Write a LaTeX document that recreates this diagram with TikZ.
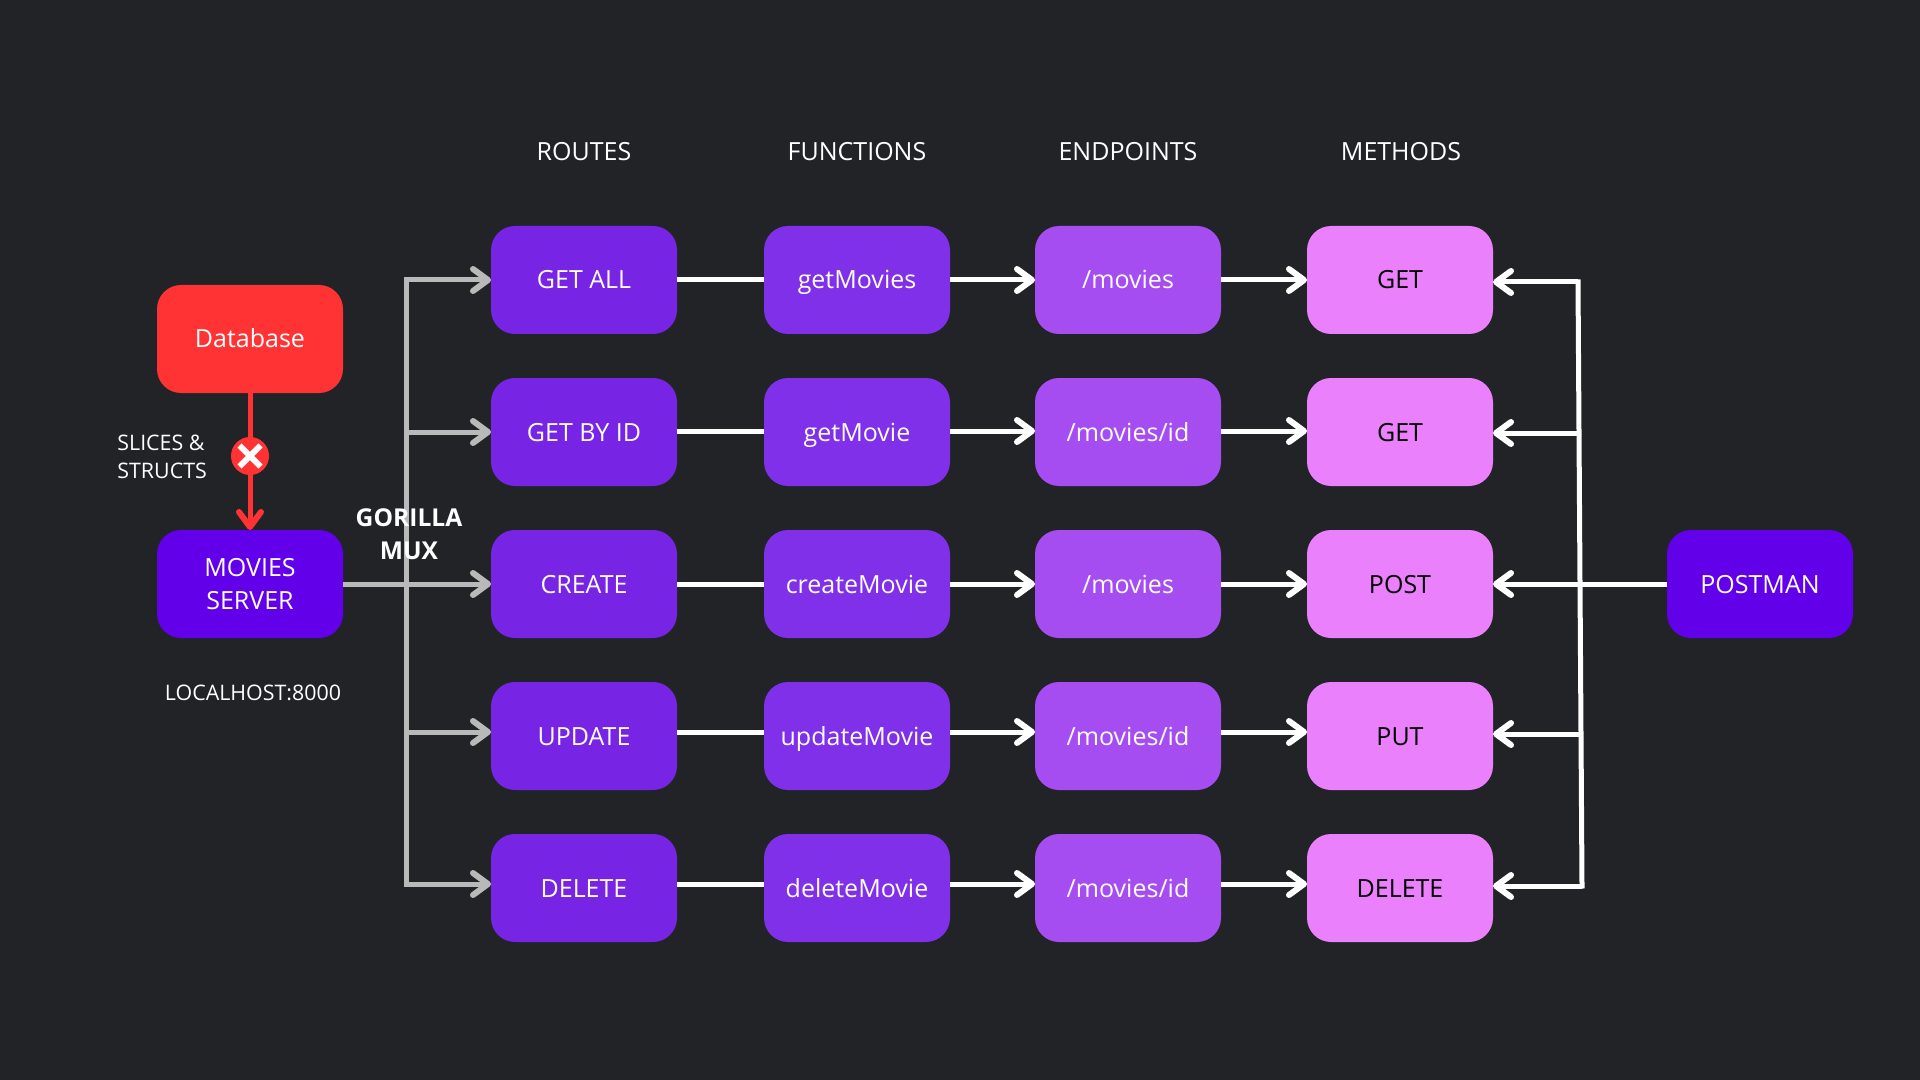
\documentclass[tikz,border=0pt]{standalone}
\usepackage{fontspec}
\setmainfont{Open Sans}
\usetikzlibrary{arrows.meta}
\usetikzlibrary{shapes.misc}
\definecolor{bgdark}{HTML}{212327}
\definecolor{routecol}{HTML}{7824E4}
\definecolor{funccol}{HTML}{7F30E8}
\definecolor{endcol}{HTML}{A64DF2}
\definecolor{methcol}{HTML}{EA80FB}
\definecolor{servercol}{HTML}{6200EA}
\definecolor{dbcol}{HTML}{FF3333}
\definecolor{muxgrey}{HTML}{B9B9B9}
\tikzset{
  boxnode/.style={rounded corners=12pt, minimum width=93pt, minimum height=54pt,
    inner sep=0pt, outer sep=0pt, text=white, align=center,
    font=\fontsize{12.5}{16.5}\selectfont},
  onerow/.style={text height=9.5pt, text depth=0.5pt},
  lab/.style={text=white, inner sep=0pt, font=\fontsize{12.5}{16.5}\selectfont},
  smalllab/.style={text=white, inner sep=0pt, align=left, font=\fontsize{10.7}{14}\selectfont},
  link/.style={white, line width=2.5pt},
  barbtip/.style={-{Straight Barb[length=7.5pt, width=11pt, line width=3pt, round]}},
  linkarrow/.style={link, barbtip},
  muxline/.style={muxgrey, line width=2.5pt},
  muxarrow/.style={muxline, barbtip}
}

\begin{document}
\begin{tikzpicture}[x=0.5pt, y=-0.5pt]

%---------------------------------------
% Background
%---------------------------------------
\fill[bgdark] (0,0) rectangle (1920,1080);
\useasboundingbox (0,0) rectangle (1920,1080);

%---------------------------------------
% Column headings
%---------------------------------------
\node[lab] (headroutes) at (584,152) {ROUTES};
\node[lab] (headfuncs) at (857,152) {FUNCTIONS};
\node[lab] (headends) at (1128,152) {ENDPOINTS};
\node[lab] (headmeths) at (1401,152) {METHODS};

%---------------------------------------
% Left side
%---------------------------------------
\node[boxnode, onerow, fill=dbcol] (database) at (250,339) {Database};
\node[boxnode, fill=servercol] (server) at (250,584) {MOVIES\\SERVER};
\node[boxnode, onerow, fill=servercol] (postman) at (1760,584) {POSTMAN};

% Rows
\foreach \r/\y/\ly/\rt/\fn/\ep/\mt in {
  1/280/280/GET ALL/getMovies/movies/GET,
  2/432/431/GET BY ID/getMovie/movies\slash id/GET,
  3/584/584/CREATE/createMovie/movies/POST,
  4/736/732/UPDATE/updateMovie/movies\slash id/PUT,
  5/888/884/DELETE/deleteMovie/movies\slash id/DELETE}{
  \node[boxnode, onerow, fill=routecol] (route\r) at (584,\y) {\rt};
  \node[boxnode, onerow, fill=funccol] (func\r) at (857,\y) {\fn};
  \node[boxnode, onerow, fill=endcol] (end\r) at (1128,\y) {/\ep};
  \node[boxnode, onerow, fill=methcol, text=black] (meth\r) at (1400,\y) {\mt};
  \coordinate (lane\r) at (0,\ly);
  \draw[link] (route\r.east |- lane\r) -- (func\r.west |- lane\r);
  \draw[linkarrow] (func\r.east |- lane\r) -- (end\r.west |- lane\r);
  \draw[linkarrow] (end\r.east |- lane\r) -- (meth\r.west |- lane\r);
}

%---------------------------------------
% Gorilla mux
%---------------------------------------
\coordinate (muxtop) at (406,280);
\coordinate (muxbot) at (406,884);
\draw[muxline, line cap=rect] (muxtop) -- (muxbot);
\draw[muxarrow] (muxtop) -- (route1);
\draw[muxarrow] (406,432) -- (route2);
\draw[muxarrow] (server) -- (route3);
\draw[muxarrow] (406,732) -- (route4.west |- lane4);
\draw[muxarrow] (muxbot) -- (route5.west |- muxbot);

%---------------------------------------
% Postman bus
%---------------------------------------
\coordinate (bustop) at (1578,282);
\coordinate (busbot) at (1582,886);
\draw[link, line cap=rect] (bustop) -- (busbot);
\draw[linkarrow] (bustop) -- (meth1.east |- bustop);
\draw[linkarrow] (1579,433) -- (meth2.east |- 1579,433);
\draw[linkarrow] (postman) -- (meth3);
\draw[linkarrow] (1581,734) -- (meth4.east |- 1581,734);
\draw[linkarrow] (busbot) -- (meth5.east |- busbot);

%---------------------------------------
% Database to server
%---------------------------------------
\draw[dbcol, line width=2.5pt, barbtip] (database) -- (server);
\node[circle, fill=dbcol, minimum size=19pt, inner sep=0pt] (dbstop) at (250,456) {};
\node[cross out, draw=white, line width=3pt, minimum size=7.5pt, inner sep=0pt] (dbcross) at (dbstop) {};

%---------------------------------------
% Labels
%---------------------------------------
\node[smalllab, anchor=west] (sliceslab) at (117,457) {SLICES \&\\STRUCTS};
\node[smalllab] (hostlab) at (253,693) {LOCALHOST:8000};
\node[lab, align=center, font=\fontsize{12.3}{16.5}\selectfont\bfseries] (muxlab) at (409,534) {GORILLA\\MUX};

\end{tikzpicture}
\end{document}
